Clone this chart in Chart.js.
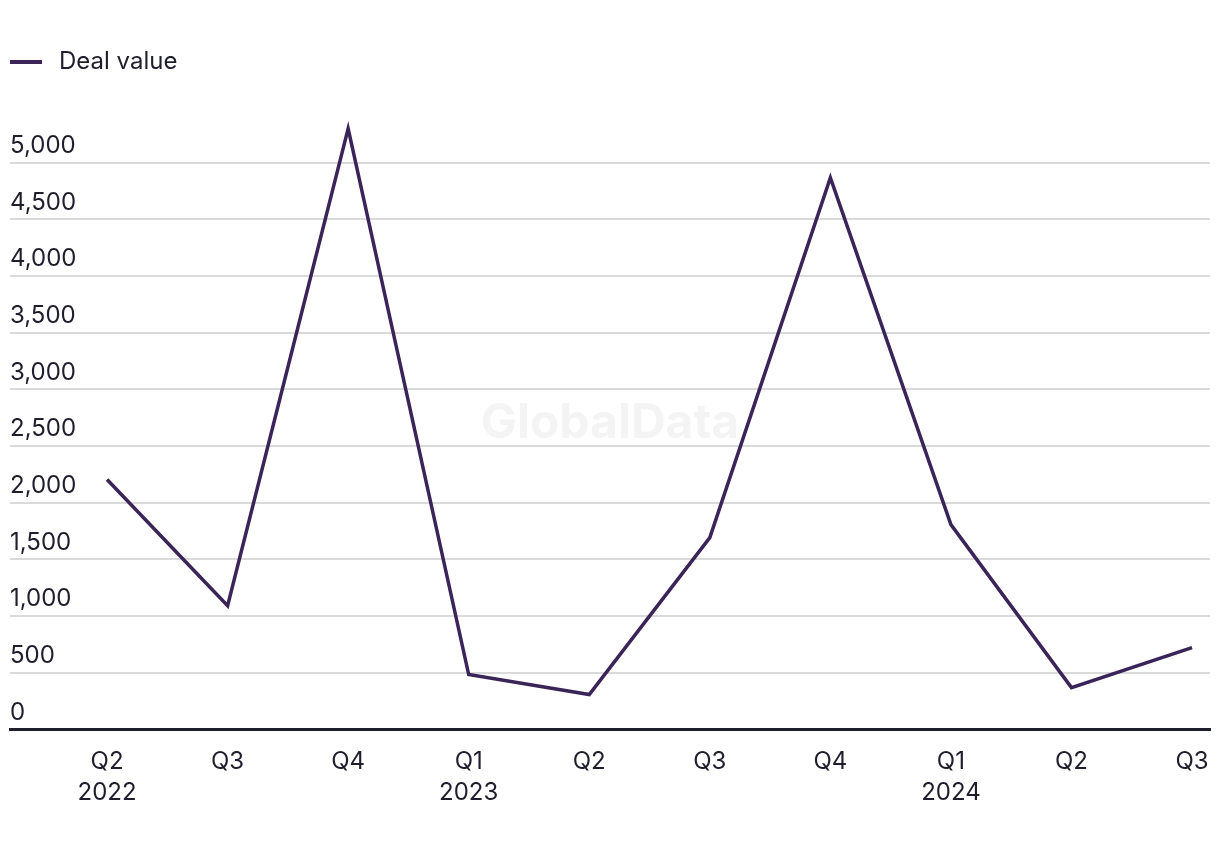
<!DOCTYPE html>
<html>
<head>
<meta charset="utf-8">
<script src="https://cdn.jsdelivr.net/npm/chart.js@4"></script>
<style>
  html, body { margin: 0; padding: 0; background: #fff; }
  #wrap { width: 1220px; height: 850px; }
</style>
</head>
<body>
<div id="wrap"><canvas id="myChart"></canvas></div>
<script>
const quarters = [["Q2", "2022"], "Q3", "Q4", ["Q1", "2023"], "Q2", "Q3", "Q4", ["Q1", "2024"], "Q2", "Q3"];
const dealValue = [2205, 1093, 5300, 485, 309, 1693, 4868, 1808, 370, 723];
const yTicks = [0, 500, 1000, 1500, 2000, 2500, 3000, 3500, 4000, 4500, 5000];

const textColor = "#1e1e2d";
const lineColor = "#3a2458";

// legend marker: short line with some room after it
const marker = document.createElement("canvas");
marker.width = 37;
marker.height = 4;
const mctx = marker.getContext("2d");
mctx.fillStyle = lineColor;
mctx.fillRect(0, 0, 32, 4);

// faint watermark behind the line
const watermark = {
  id: "watermark",
  beforeDatasetsDraw(chart) {
    const { ctx, chartArea } = chart;
    ctx.save();
    ctx.font = "bold 48px Inter";
    ctx.fillStyle = "#f4f4f4";
    ctx.textAlign = "center";
    ctx.textBaseline = "middle";
    ctx.fillText("GlobalData", (chartArea.left + chartArea.right) / 2, (chartArea.top + chartArea.bottom) / 2 + 6);
    ctx.restore();
  }
};

// push plot lower under the legend
const legendGap = {
  id: "legendGap",
  beforeInit(chart) {
    const origFit = chart.legend.fit;
    chart.legend.fit = function () {
      origFit.bind(this)();
      this.height += 22;
    };
  }
};

new Chart(document.getElementById("myChart"), {
  type: "line",
  data: {
    datasets: [
      {
        label: "Deal value",
        data: dealValue.map((v, i) => ({ x: i, y: v })),
        borderColor: lineColor,
        backgroundColor: lineColor,
        borderWidth: 3.5,
        pointRadius: 0,
        pointStyle: marker,
        tension: 0,
      },
    ],
  },
  options: {
    responsive: true,
    maintainAspectRatio: false,
    animation: false,
    layout: { padding: { left: 10, right: 10, top: 50, bottom: 33 } },
    plugins: {
      legend: {
        position: "top",
        align: "start",
        labels: {
          usePointStyle: true,
          pointStyleWidth: 37,
          padding: 0,
          color: textColor,
          font: { family: "Inter", size: 24 },
        },
      },
      tooltip: { enabled: false },
    },
    scales: {
      x: {
        type: "linear",
        min: -0.805,
        max: 9.149,
        afterBuildTicks: (scale) => {
          scale.ticks = quarters.map((q, i) => ({ value: i }));
        },
        ticks: {
          autoSkip: false,
          maxRotation: 0,
          color: textColor,
          padding: 9,
          font: { family: "Inter", size: 24, lineHeight: 1.28 },
          callback: (v) => quarters[v],
        },
        grid: { display: false },
        border: { display: true, color: textColor, width: 3 },
      },
      y: {
        min: 0,
        max: 5500,
        afterBuildTicks: (scale) => {
          scale.ticks = yTicks.map((v) => ({ value: v }));
        },
        ticks: {
          mirror: true,
          padding: 0,
          labelOffset: -17,
          color: textColor,
          font: { family: "Inter", size: 24 },
          callback: (v) => v.toLocaleString("en-US"),
        },
        grid: {
          drawTicks: false,
          lineWidth: 2,
          color: (c) => (c.tick && c.tick.value === 0 ? "rgba(0,0,0,0)" : "#dadada"),
        },
        border: { display: false },
      },
    },
  },
  plugins: [watermark, legendGap],
});
</script>
</body>
</html>
